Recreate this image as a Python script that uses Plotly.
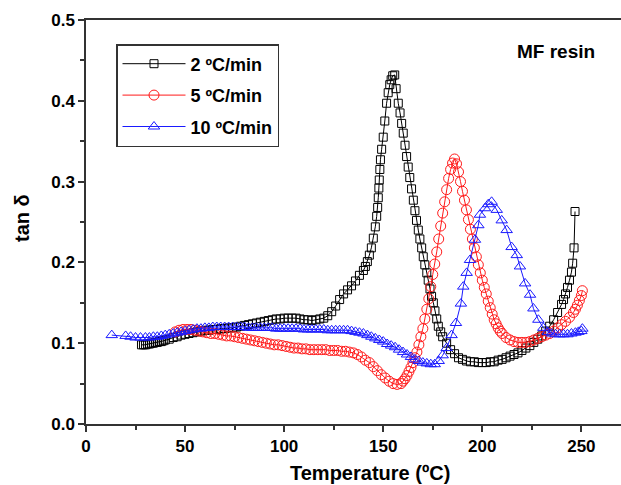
import plotly.graph_objects as go

# ---- 2 ºC/min (black squares) ----
temp_2 = [28, 29, 30, 31, 32, 33, 34, 35, 36, 37, 38, 39, 40, 42, 44, 46, 48, 50, 52, 54, 56, 58, 60,
          62, 64, 66, 68, 70, 72, 74, 76, 78, 80, 82, 84, 86, 88, 90, 92, 94, 96, 98, 100, 102, 104,
          106, 108, 110, 112, 114, 116, 118, 120, 122, 124, 126, 128, 130, 132, 134, 136, 138, 140,
          141, 142, 143, 144, 145, 146, 146.7, 147.2, 147.5, 147.8, 148, 148.3, 148.6, 149.2, 150,
          150.8, 151.7, 152.5, 153.3, 154, 154.8, 155.8, 156.5, 157.6, 158.5, 159.3, 160.1, 161,
          161.8, 162.6, 163.4, 164.3, 165.2, 166, 166.8, 167.7, 168.5, 169.4, 170.2, 171, 172, 172.7,
          173.6, 174.4, 175.3, 176.1, 177, 177.8, 179, 180, 182, 184, 186, 188, 190, 192, 194, 196,
          198, 200, 202, 204, 206, 208, 210, 212, 214, 216, 218, 220, 222, 224, 226, 228, 230, 232,
          234, 236, 238, 240, 241, 242, 243, 244, 245, 245.6, 246.3, 246.8]
tan_2 = [0.098, 0.098, 0.098, 0.099, 0.099, 0.100, 0.100, 0.101, 0.101, 0.102, 0.102, 0.103, 0.104,
         0.105, 0.107, 0.108, 0.110, 0.111, 0.112, 0.113, 0.114, 0.115, 0.116, 0.116, 0.117, 0.117,
         0.118, 0.118, 0.119, 0.119, 0.120, 0.121, 0.122, 0.123, 0.124, 0.125, 0.126, 0.127, 0.128,
         0.129, 0.130, 0.130, 0.131, 0.131, 0.131, 0.131, 0.130, 0.129, 0.129, 0.128, 0.129, 0.130,
         0.131, 0.134, 0.139, 0.146, 0.154, 0.161, 0.166, 0.171, 0.177, 0.184, 0.190, 0.195, 0.201,
         0.209, 0.218, 0.230, 0.244, 0.257, 0.268, 0.280, 0.292, 0.302, 0.315, 0.327, 0.340, 0.355,
         0.375, 0.397, 0.410, 0.420, 0.426, 0.431, 0.432, 0.415, 0.397, 0.385, 0.372, 0.360, 0.345,
         0.331, 0.318, 0.305, 0.291, 0.277, 0.264, 0.252, 0.240, 0.229, 0.218, 0.207, 0.197, 0.187,
         0.178, 0.167, 0.158, 0.150, 0.140, 0.130, 0.121, 0.114, 0.108, 0.100, 0.092, 0.087, 0.082,
         0.080, 0.078, 0.077, 0.077, 0.076, 0.076, 0.076, 0.077, 0.077, 0.079, 0.080, 0.082, 0.084,
         0.086, 0.088, 0.091, 0.094, 0.097, 0.101, 0.105, 0.109, 0.115, 0.121, 0.129, 0.138, 0.148,
         0.154, 0.161, 0.169, 0.178, 0.188, 0.199, 0.218, 0.263]

# ---- 5 ºC/min (red circles) ----
temp_5 = [45, 47, 49, 51, 53, 55, 57, 59, 61, 63, 65, 67, 69, 71, 73, 75, 77, 79, 81, 83, 85, 87, 89,
          91, 93, 95, 97, 99, 101, 103, 105, 107, 109, 111, 113, 115, 117, 119, 121, 123, 125, 127,
          129, 131, 133, 135, 137, 139, 141, 143, 145, 147, 149, 151, 153, 155, 157, 159, 160, 161,
          162, 163, 164, 165, 166, 167, 168, 169, 170, 171, 172, 173, 174, 175, 176, 177, 178, 179,
          180, 181, 182, 183, 184, 185, 186, 187, 188, 189, 190, 191, 192, 193, 194, 195, 196, 197,
          198, 199, 200, 201, 202, 203, 204, 205, 206, 207, 208, 209, 210, 212, 214, 216, 218, 220,
          222, 224, 226, 228, 230, 232, 234, 236, 238, 240, 242, 244, 246, 247, 248, 249, 250, 250.5]
tan_5 = [0.114, 0.116, 0.117, 0.117, 0.117, 0.116, 0.115, 0.114, 0.113, 0.112, 0.112, 0.111, 0.110,
         0.109, 0.109, 0.108, 0.107, 0.106, 0.105, 0.104, 0.103, 0.102, 0.101, 0.100, 0.099, 0.098,
         0.098, 0.097, 0.096, 0.095, 0.094, 0.094, 0.093, 0.093, 0.092, 0.092, 0.092, 0.092, 0.092,
         0.091, 0.091, 0.091, 0.090, 0.090, 0.089, 0.088, 0.086, 0.083, 0.079, 0.076, 0.071, 0.066,
         0.061, 0.057, 0.053, 0.050, 0.049, 0.050, 0.053, 0.056, 0.060, 0.065, 0.070, 0.076, 0.082,
         0.089, 0.098, 0.108, 0.118, 0.130, 0.142, 0.155, 0.170, 0.185, 0.198, 0.213, 0.229, 0.245,
         0.261, 0.275, 0.290, 0.304, 0.315, 0.323, 0.328, 0.322, 0.312, 0.300, 0.288, 0.277, 0.265,
         0.253, 0.241, 0.229, 0.218, 0.207, 0.197, 0.187, 0.178, 0.169, 0.161, 0.152, 0.144, 0.136,
         0.129, 0.124, 0.119, 0.115, 0.112, 0.107, 0.104, 0.102, 0.101, 0.101, 0.101, 0.102, 0.104,
         0.106, 0.108, 0.110, 0.112, 0.115, 0.119, 0.123, 0.127, 0.132, 0.138, 0.142, 0.147, 0.153,
         0.159, 0.165]

# ---- 10 ºC/min (blue triangles) ----
temp_10 = [13, 20, 22.5, 25, 27.5, 30, 32, 34, 36, 38, 40, 42, 44, 46, 48, 50, 52, 54, 56, 58, 60,
           62, 64, 66, 68, 70, 72, 74, 76, 78, 80, 82, 84, 86, 88, 90, 92, 94, 96, 98, 100, 102,
           104, 106, 108, 110, 112, 114, 116, 118, 120, 122, 124, 126, 128, 130, 132, 134, 136,
           138, 140, 142, 144, 146, 148, 150, 152, 154, 156, 158, 160, 162, 164, 166, 168, 170,
           172, 174, 176, 178, 180, 182, 184.5, 186.7, 189.2, 190.4, 192.1, 193.8, 196.3, 198,
           198.8, 201.4, 203, 204.7, 207.3, 209.8, 212.3, 214.8, 217.4, 219, 221.6, 224.1, 225.8,
           228.3, 230.8, 233, 235, 237, 239, 241, 243, 245, 247, 248.5, 250, 250.5]
tan_10 = [0.110, 0.109, 0.108, 0.107, 0.107, 0.107, 0.107, 0.108, 0.108, 0.109, 0.110, 0.111, 0.112,
          0.113, 0.114, 0.115, 0.116, 0.117, 0.118, 0.118, 0.119, 0.119, 0.120, 0.120, 0.120, 0.120,
          0.120, 0.120, 0.120, 0.120, 0.120, 0.119, 0.119, 0.119, 0.119, 0.119, 0.119, 0.119, 0.118,
          0.118, 0.118, 0.118, 0.118, 0.118, 0.118, 0.117, 0.117, 0.117, 0.117, 0.117, 0.117, 0.116,
          0.116, 0.116, 0.116, 0.116, 0.116, 0.115, 0.114, 0.113, 0.112, 0.110, 0.108, 0.106, 0.104,
          0.102, 0.099, 0.097, 0.095, 0.092, 0.089, 0.086, 0.083, 0.080, 0.078, 0.076, 0.075, 0.074,
          0.074, 0.078, 0.085, 0.094, 0.110, 0.125, 0.149, 0.170, 0.187, 0.203, 0.228, 0.246, 0.259,
          0.267, 0.272, 0.275, 0.265, 0.252, 0.240, 0.219, 0.209, 0.195, 0.174, 0.160, 0.143, 0.129,
          0.119, 0.114, 0.112, 0.111, 0.111, 0.111, 0.111, 0.112, 0.113, 0.114, 0.115, 0.118]

series_names = ["2 ºC/min", "5 ºC/min", "10 ºC/min"]
x_ticks = [0, 50, 100, 150, 200, 250]
y_ticks = [0.0, 0.1, 0.2, 0.3, 0.4, 0.5]

FONT = "Liberation Sans, Arial, sans-serif"
AX = "#333333"

fig = go.Figure()
fig.add_trace(go.Scatter(x=temp_2, y=tan_2, name=series_names[0], mode="lines+markers",
                         line=dict(color="black", width=1),
                         marker=dict(symbol="square-open", size=8, color="black", line=dict(width=1)),
                         legendgroup="a"))
fig.add_trace(go.Scatter(x=temp_5, y=tan_5, name=series_names[1], mode="lines+markers",
                         line=dict(color="#ff1a1a", width=1),
                         marker=dict(symbol="circle-open", size=10, color="#ff1a1a", line=dict(width=1)),
                         legendgroup="b"))
fig.add_trace(go.Scatter(x=temp_10, y=tan_10, name=series_names[2], mode="lines+markers",
                         line=dict(color="#1a1aff", width=1),
                         marker=dict(symbol="triangle-up-open", size=10, color="#1a1aff", line=dict(width=1)),
                         legendgroup="c"))

L, R, T, B = 86, 0, 20, 61
W, H = 621, 485
pw, ph = W - L - R, H - T - B

def px_x(p):
    return (p - L) / pw

def px_y(p):
    return (H - B - p) / ph

fig.update_layout(
    width=W, height=H,
    margin=dict(l=L, r=R, t=T, b=B),
    paper_bgcolor="white", plot_bgcolor="white",
    font=dict(family=FONT, size=17, color="black"),
    showlegend=True,
    legend=dict(x=px_x(116), y=px_y(44), xanchor="left", yanchor="top",
                bordercolor=AX, borderwidth=1.5, bgcolor="white",
                font=dict(family=FONT, size=18, color="black", weight="bold"),
                tracegroupgap=5, itemwidth=63),
    xaxis=dict(range=[0, 270], tickmode="array", tickvals=x_ticks,
               ticktext=[str(v) for v in x_ticks],
               ticks="outside", ticklen=6, tickwidth=1.5, tickcolor=AX,
               minor=dict(dtick=25, tick0=0, ticks="outside", ticklen=4, tickwidth=1.5, tickcolor=AX),
               showline=True, linecolor=AX, linewidth=1.5, mirror=True,
               showgrid=False, zeroline=False,
               tickfont=dict(family=FONT, size=17, color="black", weight="bold")),
    yaxis=dict(range=[0, 0.5], tickmode="array", tickvals=y_ticks,
               ticktext=["%.1f" % v for v in y_ticks],
               ticks="outside", ticklen=6, tickwidth=1.5, tickcolor=AX,
               minor=dict(dtick=0.05, tick0=0, ticks="outside", ticklen=4, tickwidth=1.5, tickcolor=AX),
               showline=True, linecolor=AX, linewidth=1.5, mirror=False,
               showgrid=False, zeroline=False,
               tickfont=dict(family=FONT, size=17, color="black", weight="bold")),
    annotations=[
        dict(text="<b>MF resin</b>", xref="paper", yref="paper", x=px_x(515), y=px_y(52),
             xanchor="left", yanchor="middle", showarrow=False,
             font=dict(family=FONT, size=19, color="black")),
        dict(text="<b>Temperature (ºC)</b>", xref="paper", yref="paper", x=px_x(370), y=px_y(473),
             xanchor="center", yanchor="middle", showarrow=False,
             font=dict(family=FONT, size=20, color="black")),
        dict(text="<b>tan δ</b>", xref="paper", yref="paper", x=px_x(22), y=px_y(218),
             xanchor="center", yanchor="middle", showarrow=False, textangle=-90,
             font=dict(family=FONT, size=20, color="black")),
    ],
)

fig.write_html("out.html", config={"displayModeBar": False},
               post_script="document.body.style.margin='0';document.body.style.overflow='hidden';")
